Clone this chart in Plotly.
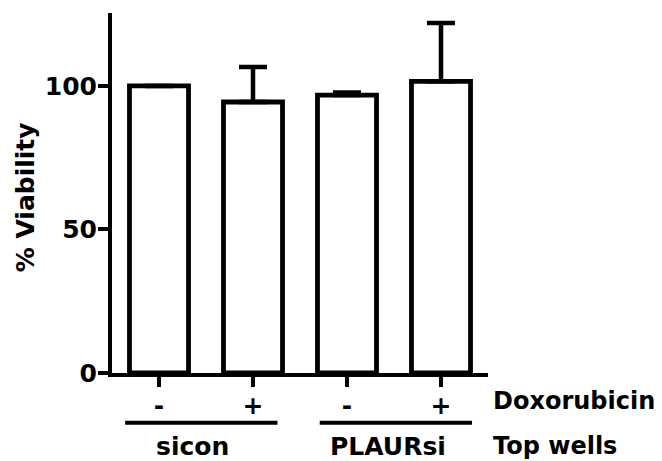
import plotly.graph_objects as go

# Data
categories = ["sicon -", "sicon +", "PLAURsi -", "PLAURsi +"]
tick_labels = ["-", "+", "-", "+"]
viability = [100.0, 94.4, 96.8, 101.6]
error_plus = [0.0, 12.2, 0.9, 20.3]
groups = ["sicon", "PLAURsi"]
group_label_x = [0.353, 2.435]
group_line_start = [-0.36, 1.71]
group_line_end = [1.26, 3.33]
row_labels = ["Doxorubicin", "Top wells"]
y_ticks = [0, 50, 100]

FONT = "DejaVu Sans, Arial, Helvetica, sans-serif"
FS = 25
x_pos = list(range(len(categories)))

fig = go.Figure()
fig.add_trace(go.Bar(
    x=x_pos, y=viability, width=0.628,
    marker=dict(color="white", line=dict(color="black", width=4.8)),
    error_y=dict(type="data", array=error_plus, arrayminus=[0]*len(error_plus),
                 symmetric=False, color="black", thickness=4.5, width=14),
    showlegend=False,
))

fig.update_layout(
    width=662, height=461,
    margin=dict(l=112, r=174, t=13, b=88),
    plot_bgcolor="white", paper_bgcolor="white",
    font=dict(family=FONT, size=FS, color="black", weight="bold"),
    xaxis=dict(range=[-0.5, 3.5], tickmode="array", tickvals=x_pos, ticktext=tick_labels,
               showline=True, linecolor="black", linewidth=4, ticks="outside",
               ticklen=10, tickwidth=3.5, tickcolor="black", showgrid=False, zeroline=False,
               tickfont=dict(family=FONT, size=FS, weight="bold"), ticklabelstandoff=-3),
    yaxis=dict(range=[0, 125.4], tickmode="array", tickvals=y_ticks,
               ticktext=[str(v) for v in y_ticks],
               showline=True, linecolor="black", linewidth=4, ticks="outside",
               ticklen=10, tickwidth=3.5, tickcolor="black", showgrid=False, zeroline=False,
               tickfont=dict(family=FONT, size=FS, weight="bold"), ticklabelstandoff=-4),
)

def py(pix):
    return (373.3 - pix) / 360.3

for g, gx, s, e in zip(groups, group_label_x, group_line_start, group_line_end):
    fig.add_shape(type="line", xref="x", yref="paper", x0=s, x1=e, y0=py(423), y1=py(423),
                  line=dict(color="black", width=4))
    fig.add_annotation(x=gx, y=py(447), xref="x", yref="paper", text=g, showarrow=False,
                       xanchor="center", yanchor="middle",
                       font=dict(family=FONT, size=FS, weight="bold"))

for lbl, yy in zip(row_labels, [401, 446]):
    fig.add_annotation(x=(491 - 112) / 376, y=py(yy), xref="paper", yref="paper", text=lbl,
                       showarrow=False, xanchor="left", yanchor="middle",
                       font=dict(family=FONT, size=24, weight="bold"))

fig.add_annotation(x=(25 - 112) / 376, y=py(197.5), xref="paper", yref="paper",
                   text="% Viability", textangle=-90, showarrow=False,
                   xanchor="center", yanchor="middle",
                   font=dict(family=FONT, size=FS, weight="bold"))

fig.write_html("out.html", config={"displayModeBar": False},
               post_script="document.body.style.margin='0';document.body.style.padding='0';")
